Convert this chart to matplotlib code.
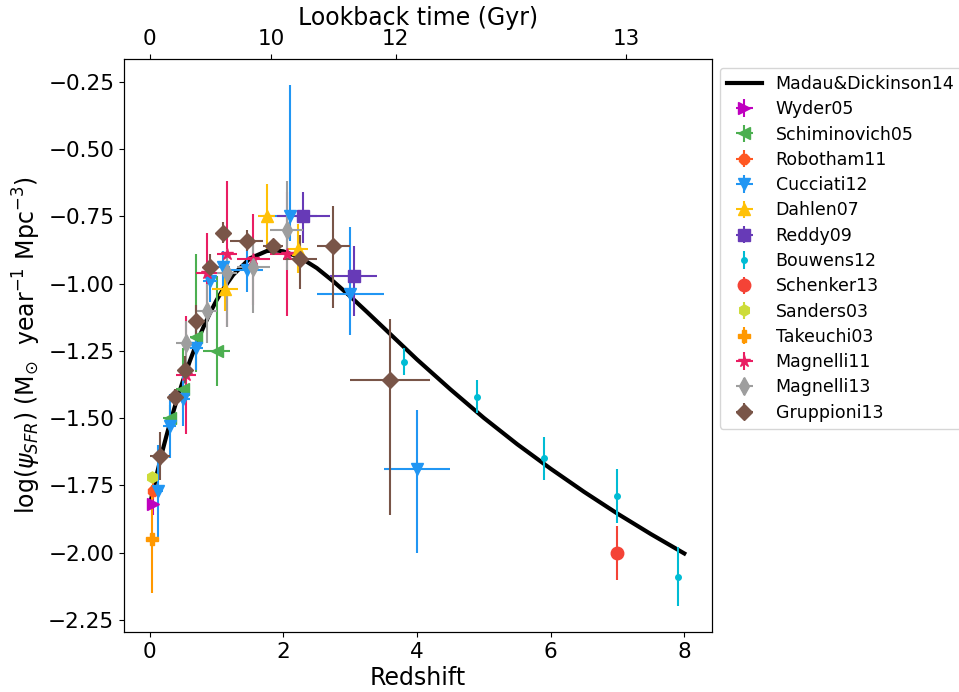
import matplotlib
matplotlib.use('Agg')
import matplotlib.pyplot as plt

# ---------------- data ----------------
# Madau & Dickinson 2014 fit
md_z = [0, 0.1, 0.2, 0.25, 0.3, 0.4, 0.5, 0.6, 0.7, 0.75, 0.8, 0.9, 1.0, 1.1, 1.25,
        1.5, 1.75, 1.875, 2.0, 2.25, 2.5, 2.75, 3.0, 3.25, 3.5, 3.75, 4.0, 4.5,
        5.0, 5.5, 6.0, 6.5, 7.0, 7.5, 8.0]
md_y = [-1.825, -1.714, -1.613, -1.566, -1.521, -1.437, -1.359, -1.288, -1.223,
        -1.193, -1.164, -1.110, -1.062, -1.020, -0.967, -0.906, -0.879, -0.876,
        -0.880, -0.903, -0.942, -0.992, -1.047, -1.105, -1.164, -1.223, -1.282,
        -1.393, -1.499, -1.597, -1.688, -1.774, -1.855, -1.931, -2.003]

wyder_z = [0.055]
wyder_y = [-1.82]
wyder_lo = [0.04]
wyder_hi = [0.04]
wyder_xe = [0.045]

schim_z = [0.3, 0.5, 0.7, 1.0]
schim_y = [-1.50, -1.39, -1.20, -1.25]
schim_lo = [0.05, 0.08, 0.13, 0.13]
schim_hi = [0.05, 0.15, 0.31, 0.28]
schim_xe = [0.1, 0.1, 0.1, 0.2]

robo_z = [0.05]
robo_y = [-1.77]
robo_lo = [0.03]
robo_hi = [0.03]
robo_xe = [0.02]

cucc_z = [0.125, 0.3, 0.5, 0.7, 0.9, 1.1, 1.45, 2.1, 3.0, 4.0]
cucc_y = [-1.77, -1.53, -1.43, -1.24, -0.99, -0.94, -0.95, -0.75, -1.04, -1.69]
cucc_lo = [0.17, 0.12, 0.10, 0.08, 0.08, 0.07, 0.08, 0.09, 0.15, 0.31]
cucc_hi = [0.17, 0.12, 0.10, 0.08, 0.07, 0.06, 0.08, 0.49, 0.25, 0.22]
cucc_xe = [0.075, 0.1, 0.1, 0.1, 0.1, 0.1, 0.25, 0.4, 0.5, 0.5]

dahl_z = [1.125, 1.75, 2.225]
dahl_y = [-1.02, -0.75, -0.87]
dahl_lo = [0.08, 0.12, 0.09]
dahl_hi = [0.06, 0.12, 0.09]
dahl_xe = [0.2, 0.13, 0.15]

reddy_z = [2.3, 3.05]
reddy_y = [-0.75, -0.97]
reddy_lo = [0.10, 0.15]
reddy_hi = [0.09, 0.11]
reddy_xe = [0.4, 0.35]

bouw_z = [3.8, 4.9, 5.9, 7.0, 7.9]
bouw_y = [-1.29, -1.42, -1.65, -1.79, -2.09]
bouw_err = [0.05, 0.06, 0.08, 0.10, 0.11]

schenk_z = [7.0]
schenk_y = [-2.00]
schenk_err = [0.10]

sand_z = [0.03]
sand_y = [-1.72]
sand_err = [0.02]

take_z = [0.03]
take_y = [-1.95]
take_err = [0.20]

mag11_z = [0.55, 0.85, 1.15, 1.55, 2.05]
mag11_y = [-1.34, -0.96, -0.89, -0.91, -0.89]
mag11_err = [0.22, 0.15, 0.27, 0.17, 0.23]
mag11_xe = [0.15, 0.15, 0.15, 0.25, 0.25]

mag13_z = [0.55, 0.85, 1.15, 1.55, 2.05]
mag13_y = [-1.22, -1.10, -0.96, -0.94, -0.80]
mag13_lo = [0.08, 0.12, 0.20, 0.17, 0.15]
mag13_hi = [0.08, 0.10, 0.09, 0.10, 0.18]
mag13_xe = [0.15, 0.15, 0.15, 0.25, 0.25]

grup_z = [0.15, 0.375, 0.525, 0.7, 0.9, 1.1, 1.45, 1.85, 2.25, 2.75, 3.6]
grup_y = [-1.64, -1.42, -1.32, -1.14, -0.94, -0.81, -0.84, -0.86, -0.91, -0.86, -1.36]
grup_lo = [0.09, 0.03, 0.05, 0.06, 0.05, 0.04, 0.04, 0.02, 0.11, 0.23, 0.50]
grup_hi = [0.09, 0.03, 0.05, 0.06, 0.05, 0.04, 0.04, 0.02, 0.09, 0.15, 0.23]
grup_xe = [0.15, 0.075, 0.075, 0.1, 0.1, 0.1, 0.25, 0.15, 0.25, 0.25, 0.6]

lookback_ticks_z = [0, 1.82, 3.68, 7.13]
lookback_labels = ['0', '10', '12', '13']

# ---------------- plot ----------------
W, H = 959, 692
fig = plt.figure(figsize=(W / 100, H / 100), dpi=100)
ax = fig.add_axes([124 / W, 1 - 632 / H, (712 - 124) / W, (632 - 59) / H])

ax.plot(md_z, md_y, color='black', lw=3, label='Madau&Dickinson14')

ms = 8
ax.errorbar(wyder_z, wyder_y, yerr=[wyder_lo, wyder_hi], xerr=wyder_xe, fmt='>',
            color='#BF00BF', ms=ms, label='Wyder05')
ax.errorbar(schim_z, schim_y, yerr=[schim_lo, schim_hi], xerr=schim_xe, fmt='<',
            color='#4CAF50', ms=ms, label='Schiminovich05')
ax.errorbar(robo_z, robo_y, yerr=[robo_lo, robo_hi], xerr=robo_xe, fmt='8',
            color='#FF5722', ms=ms, label='Robotham11')
ax.errorbar(cucc_z, cucc_y, yerr=[cucc_lo, cucc_hi], xerr=cucc_xe, fmt='v',
            color='#2196F3', ms=ms, label='Cucciati12')
ax.errorbar(dahl_z, dahl_y, yerr=[dahl_lo, dahl_hi], xerr=dahl_xe, fmt='^',
            color='#FFC107', ms=ms, label='Dahlen07')
ax.errorbar(reddy_z, reddy_y, yerr=[reddy_lo, reddy_hi], xerr=reddy_xe, fmt='s',
            color='#673AB7', ms=ms, label='Reddy09')
ax.errorbar(bouw_z, bouw_y, yerr=bouw_err, fmt='.',
            color='#00BCD4', ms=ms, label='Bouwens12')
ax.errorbar(schenk_z, schenk_y, yerr=schenk_err, fmt='o',
            color='#F44336', ms=ms + 1, label='Schenker13')
ax.errorbar(sand_z, sand_y, yerr=sand_err, fmt='h',
            color='#CDDC39', ms=ms, label='Sanders03')
ax.errorbar(take_z, take_y, yerr=take_err, fmt='P',
            color='#FF9800', ms=ms, label='Takeuchi03')
ax.errorbar(mag11_z, mag11_y, yerr=mag11_err, xerr=mag11_xe, fmt='*',
            color='#E91E63', ms=ms + 1, label='Magnelli11')
ax.errorbar(mag13_z, mag13_y, yerr=[mag13_lo, mag13_hi], xerr=mag13_xe, fmt='d',
            color='#9E9E9E', ms=ms + 1, label='Magnelli13')
ax.errorbar(grup_z, grup_y, yerr=[grup_lo, grup_hi], xerr=grup_xe, fmt='D',
            color='#795548', ms=ms + 0.5, label='Gruppioni13')

ax.set_xlim(-0.385, 8.415)
ax.set_ylim(-2.295, -0.165)
ax.set_xticks([0, 2, 4, 6, 8])
ax.set_yticks([-2.25, -2.0, -1.75, -1.5, -1.25, -1.0, -0.75, -0.5, -0.25])
ax.tick_params(labelsize=15.5)
ax.set_xlabel('Redshift', fontsize=17, labelpad=3)
ax.set_ylabel(r'log($\psi_{SFR}$) (M$_{\odot}$  year$^{-1}$ Mpc$^{-3}$)', fontsize=17)

ax2 = ax.twiny()
ax2.set_xlim(ax.get_xlim())
ax2.set_xticks(lookback_ticks_z)
ax2.set_xticklabels(lookback_labels)
ax2.tick_params(labelsize=15.5)
ax2.set_xlabel('Lookback time (Gyr)', fontsize=17, labelpad=3)

ax.legend(loc='upper left', bbox_to_anchor=(720 / W, 1 - 68 / H),
          bbox_transform=fig.transFigure, borderaxespad=0, fontsize=12.5,
          labelspacing=0.42)

fig.savefig('out.png', dpi=100)
